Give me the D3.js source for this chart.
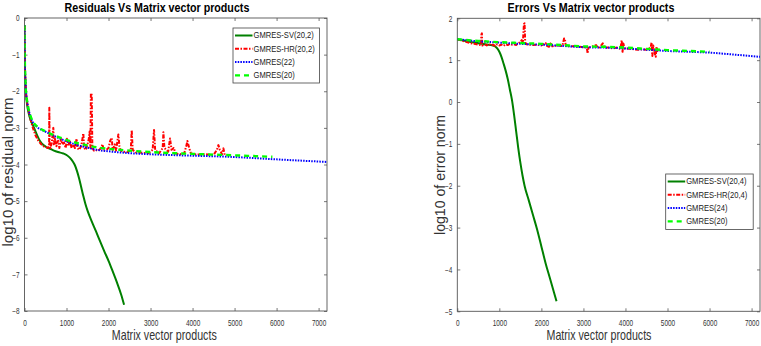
<!DOCTYPE html>
<html><head><meta charset="utf-8">
<script src="https://cdn.jsdelivr.net/npm/d3@7"></script>
<style>
body{margin:0;background:#fff;}
text{font-family:"Liberation Sans",Arial,Helvetica,sans-serif;}
</style></head>
<body><svg id="c" width="761" height="346"></svg>
<script>
// ---------- data ----------
const xTicks = [0,1000,2000,3000,4000,5000,6000,7000];
const resYTicks = [0,-1,-2,-3,-4,-5,-6,-7,-8];
const errYTicks = [2,1,0,-1,-2,-3,-4,-5];
const resLegend = ["GMRES-SV(20,2)","GMRES-HR(20,2)","GMRES(22)","GMRES(20)"];
const errLegend = ["GMRES-SV(20,4)","GMRES-HR(20,4)","GMRES(24)","GMRES(20)"];
const titles = ["Residuals Vs Matrix vector products","Errors Vs Matrix vector products"];
const xLabel = "Matrix vector products";
const yLabels = ["log10 of residual norm","log10 of error norm"];

const resSV = [[0,-0.2],[5,-0.9],[12,-1.4],[20,-1.7],[35,-2.05],[60,-2.35],[100,-2.6],[150,-2.8],[210,-2.95],[300,-3.2],[369,-3.36],[450,-3.47],[530,-3.53],[607,-3.57],[700,-3.62],[800,-3.66],[924,-3.7],[1000,-3.74],[1083,-3.82],[1150,-3.92],[1200,-4.02],[1250,-4.18],[1300,-4.38],[1350,-4.62],[1400,-4.86],[1450,-5.08],[1500,-5.26],[1600,-5.55],[1700,-5.82],[1800,-6.1],[1900,-6.37],[2000,-6.63],[2100,-6.92],[2200,-7.22],[2300,-7.55],[2370,-7.83]];
const resHR = [[0,-0.2],[5,-0.9],[12,-1.4],[20,-1.7],[35,-2.05],[60,-2.3],[100,-2.55],[150,-2.8],[200,-3.0],[260,-3.2],[330,-3.35],[400,-3.45],[450,-3.5],[500,-3.52],[560,-3.55],[585,-3.5],[591,-2.45],[598,-3.5],[620,-3.55],[650,-3.4],[686,-3.0],[700,-3.45],[730,-3.3],[760,-3.5],[800,-3.35],[830,-3.55],[870,-3.3],[900,-3.45],[940,-3.4],[980,-3.55],[1010,-3.3],[1040,-3.5],[1080,-3.35],[1120,-3.55],[1160,-3.45],[1200,-3.55],[1240,-3.3],[1260,-3.55],[1300,-3.6],[1350,-3.5],[1400,-3.15],[1420,-3.55],[1460,-3.6],[1500,-3.45],[1530,-3.3],[1550,-3.1],[1570,-3.55],[1580,-2.05],[1600,-2.1],[1615,-3.55],[1650,-3.62],[1700,-3.6],[1750,-3.63],[1800,-3.58],[1861,-3.45],[1880,-3.62],[1950,-3.6],[2000,-3.55],[2040,-3.35],[2075,-3.27],[2100,-3.6],[2150,-3.45],[2180,-3.62],[2234,-3.18],[2260,-3.5],[2290,-3.62],[2350,-3.65],[2450,-3.66],[2530,-3.6],[2552,-3.06],[2575,-3.6],[2650,-3.67],[2800,-3.68],[2950,-3.69],[3050,-3.6],[3083,-3.06],[3110,-3.6],[3200,-3.7],[3290,-3.55],[3306,-3.12],[3330,-3.55],[3420,-3.65],[3464,-3.29],[3500,-3.6],[3550,-3.55],[3600,-3.7],[3700,-3.72],[3800,-3.7],[3850,-3.5],[3877,-3.36],[3920,-3.55],[3960,-3.7],[4100,-3.73],[4300,-3.72],[4500,-3.74],[4580,-3.6],[4615,-3.47],[4650,-3.6],[4700,-3.72],[4734,-3.56],[4760,-3.7],[4774,-3.76]];
const resG22 = [[0,-0.2],[5,-0.9],[12,-1.4],[20,-1.7],[35,-2.0],[60,-2.25],[90,-2.45],[130,-2.65],[200,-2.85],[300,-2.98],[400,-3.05],[528,-3.12],[700,-3.22],[924,-3.33],[1200,-3.45],[1500,-3.54],[1718,-3.6],[2000,-3.64],[2500,-3.69],[3000,-3.72],[4000,-3.76],[4893,-3.79],[6000,-3.86],[7200,-3.93]];
const resG20 = [[0,-0.2],[5,-0.9],[12,-1.4],[20,-1.7],[35,-2.0],[60,-2.25],[90,-2.45],[130,-2.63],[200,-2.83],[300,-2.96],[400,-3.04],[528,-3.11],[700,-3.2],[924,-3.3],[1200,-3.4],[1500,-3.48],[1718,-3.53],[2000,-3.57],[2500,-3.62],[3000,-3.66],[4000,-3.71],[5000,-3.75],[5900,-3.79]];

const errSV = [[0,1.5],[200,1.46],[400,1.42],[600,1.39],[800,1.36],[900,1.33],[950,1.28],[1000,1.2],[1050,1.08],[1100,0.92],[1150,0.75],[1200,0.55],[1250,0.3],[1300,0.05],[1350,-0.3],[1400,-0.7],[1450,-1.1],[1500,-1.45],[1550,-1.75],[1600,-2.0],[1700,-2.35],[1800,-2.7],[1900,-3.05],[2000,-3.45],[2100,-3.85],[2200,-4.2],[2300,-4.55],[2360,-4.76]];
const errHR = [[0,1.5],[100,1.47],[200,1.44],[300,1.41],[400,1.39],[500,1.37],[560,1.36],[575,1.62],[585,1.64],[595,1.35],[650,1.38],[700,1.35],[760,1.39],[800,1.35],[850,1.37],[900,1.34],[950,1.38],[1000,1.35],[1050,1.37],[1100,1.34],[1150,1.38],[1200,1.36],[1250,1.39],[1300,1.37],[1350,1.38],[1400,1.36],[1450,1.4],[1500,1.43],[1533,1.48],[1560,1.42],[1585,1.86],[1600,1.88],[1615,1.42],[1650,1.38],[1700,1.37],[1800,1.36],[1900,1.37],[2000,1.35],[2100,1.41],[2130,1.34],[2180,1.32],[2230,1.42],[2260,1.33],[2300,1.34],[2400,1.35],[2500,1.34],[2540,1.52],[2560,1.5],[2580,1.34],[2700,1.33],[2800,1.33],[2900,1.32],[3000,1.31],[3080,1.3],[3100,1.16],[3120,1.3],[3200,1.32],[3300,1.36],[3350,1.29],[3400,1.32],[3460,1.4],[3500,1.3],[3600,1.3],[3700,1.28],[3800,1.3],[3880,1.27],[3910,1.47],[3930,1.2],[3950,1.4],[3980,1.28],[4100,1.27],[4200,1.26],[4300,1.25],[4400,1.26],[4500,1.25],[4600,1.3],[4620,1.42],[4640,1.1],[4660,1.35],[4700,1.15],[4720,1.08],[4740,1.32],[4760,1.22],[4780,1.25]];
const errG24 = [[0,1.5],[500,1.45],[1000,1.42],[1500,1.39],[2000,1.37],[2500,1.34],[3000,1.31],[3500,1.3],[4000,1.28],[4500,1.25],[5000,1.22],[5500,1.2],[6000,1.18],[6500,1.14],[7200,1.08]];
const errG20 = [[0,1.5],[500,1.46],[1000,1.43],[1500,1.41],[2000,1.39],[2500,1.36],[3000,1.33],[3500,1.32],[4000,1.3],[4500,1.27],[5000,1.24],[5500,1.22],[6000,1.2]];

// ---------- drawing ----------
const svg = d3.select("#c");
const styles = [
  {color:"#008000", dash:null, w:2},
  {color:"#ff0000", dash:"4,1.5,1.5,1.5", w:2},
  {color:"#0000ff", dash:"1.5,1.2", w:2},
  {color:"#00ff00", dash:"5,4", w:2.4}
];
// horizontal condensing via transform around the text's own x anchor
function squeeze(sel, f){
  sel.each(function(){
    const ax = +(this.getAttribute("x") || 0);
    const prev = this.getAttribute("transform") || "";
    this.setAttribute("transform", `${prev} translate(${ax},0) scale(${f},1) translate(${-ax},0)`);
  });
}
function panel(cfg){
  const g = svg.append("g");
  const x = d3.scaleLinear().domain([0,7200]).range([cfg.x0,cfg.x1]);
  const y = d3.scaleLinear().domain(cfg.yDom).range([cfg.y1,cfg.y0]);
  const id = "clip"+cfg.idx;
  svg.append("clipPath").attr("id",id).append("rect")
    .attr("x",cfg.x0).attr("y",cfg.y0).attr("width",cfg.x1-cfg.x0).attr("height",cfg.y1-cfg.y0);
  const axCol = "#555";
  const mk = (a)=> a.tickSizeOuter(0);
  const gb = g.append("g").attr("transform",`translate(0,${cfg.y1})`)
    .call(mk(d3.axisBottom(x).tickValues(xTicks).tickSize(-3).tickPadding(8.5).tickFormat(d3.format("d"))));
  const gt = g.append("g").attr("transform",`translate(0,${cfg.y0})`)
    .call(mk(d3.axisTop(x).tickValues(xTicks).tickSize(-3).tickFormat("")));
  const gl = g.append("g").attr("transform",`translate(${cfg.x0},0)`)
    .call(mk(d3.axisLeft(y).tickValues(cfg.yTicks).tickSize(-3).tickPadding(5).tickFormat(d3.format("d"))));
  const gr = g.append("g").attr("transform",`translate(${cfg.x1},0)`)
    .call(mk(d3.axisRight(y).tickValues(cfg.yTicks).tickSize(-3).tickFormat("")));
  [gb,gt,gl,gr].forEach(a=>{
    a.select(".domain").remove();
    a.selectAll("line").attr("stroke",axCol).attr("stroke-width",0.8);
    a.selectAll("text").attr("fill","#333").style("font-size","8.5px").style("font-family","Liberation Sans");
  });
  squeeze(gb.selectAll("text"),0.76);
  squeeze(gl.selectAll("text"),0.76);
  g.append("rect").attr("x",cfg.x0).attr("y",cfg.y0).attr("width",cfg.x1-cfg.x0).attr("height",cfg.y1-cfg.y0)
    .attr("fill","none").attr("stroke",axCol).attr("stroke-width",0.9);

  const plot = g.append("g").attr("clip-path",`url(#${id})`);
  cfg.series.forEach((s,i)=>{
    const st = styles[i];
    const line = d3.line().x(d=>x(d[0])).y(d=>y(d[1]))
      .curve(i===1 ? d3.curveLinear : d3.curveMonotoneX);
    plot.append("path").datum(s).attr("d",line).attr("fill","none")
      .attr("stroke",st.color).attr("stroke-width",st.w)
      .attr("stroke-dasharray",st.dash).attr("stroke-linejoin","round");
  });

  // title
  const t = g.append("text").attr("x",cfg.titleX).attr("y",12).attr("text-anchor","middle")
    .style("font-size","13px").style("font-weight","bold").attr("fill","#000").text(cfg.title);
  squeeze(t, cfg.titleW / t.node().getComputedTextLength());
  // x label
  const xl = g.append("text").attr("x",cfg.xlabX).attr("y",340).attr("text-anchor","middle")
    .style("font-size","14px").attr("fill","#333").text(xLabel);
  squeeze(xl, 105 / xl.node().getComputedTextLength());
  // y label
  g.append("text").attr("transform",`translate(${cfg.ylabX},${cfg.ylabY}) rotate(-90)`)
    .attr("text-anchor","middle").style("font-size","14.5px").attr("fill","#333").text(cfg.ylabel)
    .attr("textLength",cfg.ylabW).attr("lengthAdjust","spacingAndGlyphs");

  // legend
  const L = cfg.legend;
  const lg = g.append("g");
  lg.append("rect").attr("x",L.x).attr("y",L.y).attr("width",L.w).attr("height",L.h)
    .attr("fill","#fff").attr("stroke","#444").attr("stroke-width",0.8);
  cfg.names.forEach((n,i)=>{
    const yy = L.y + 7.5 + i*13.3;
    const st = styles[i];
    lg.append("line").attr("x1",L.x+2).attr("x2",L.x+19.5).attr("y1",yy).attr("y2",yy)
      .attr("stroke",st.color).attr("stroke-width",st.w).attr("stroke-dasharray",st.dash);
    const tx = lg.append("text").attr("x",L.x+20.5).attr("y",yy+3).style("font-size","9.5px")
      .attr("fill","#222").text(n);
    squeeze(tx,0.8);
  });
}

panel({idx:0, x0:24.5, x1:327, y0:18, y1:311, yDom:[-8,0], yTicks:resYTicks,
  series:[resSV,resHR,resG22,resG20], title:titles[0], titleX:157, titleW:185,
  xlabX:164.3, ylabel:yLabels[0], ylabX:12.5, ylabY:172, ylabW:149,
  legend:{x:233,y:28,w:86.5,h:55}, names:resLegend});
panel({idx:1, x0:457.3, x1:760, y0:18.3, y1:311.3, yDom:[-5,2], yTicks:errYTicks,
  series:[errSV,errHR,errG24,errG20], title:titles[1], titleX:591, titleW:167,
  xlabX:599, ylabel:yLabels[1], ylabX:445, ylabY:175, ylabW:120,
  legend:{x:665.7,y:174,w:87.5,h:55.5}, names:errLegend});
</script></body></html>
